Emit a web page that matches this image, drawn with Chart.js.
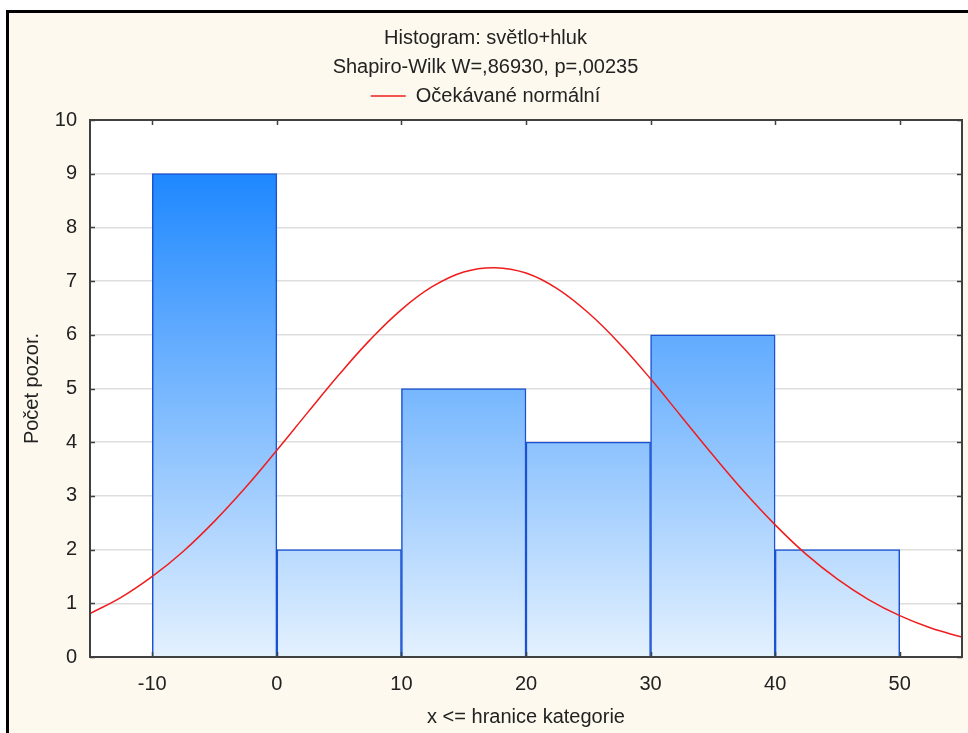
<!DOCTYPE html>
<html><head><meta charset="utf-8">
<script src="https://cdn.jsdelivr.net/npm/chart.js@4.4.1/dist/chart.umd.min.js"></script>
<style>
html,body{margin:0;padding:0;background:#fff;}
#frame{position:absolute;left:6px;top:10px;width:959px;height:720px;border-left:3px solid #000;border-top:3px solid #000;background:#fef9ee;}
canvas{display:block;}
</style></head><body>
<div id="frame"><canvas id="c" width="959" height="720" style="width:959px;height:720px"></canvas></div>
<script>
const titleText = 'Histogram: světlo+hluk';
const subtitleText = 'Shapiro-Wilk W=,86930, p=,00235';
const legendLabel = 'Očekávané normální';
const xAxisTitle = 'x <= hranice kategorie';
const yAxisTitle = 'Počet pozor.';

const binLower = [-10, 0, 10, 20, 30, 40];
const binUpper = [0, 10, 20, 30, 40, 50];
const counts = [9, 2, 5, 4, 6, 2];

const curveX = [-15, -12.5, -10, -7.5, -5, -2.5, 0, 2.5, 5, 7.5, 10, 12.5, 15, 17.5, 20, 22.5, 25, 27.5, 30, 32.5, 35, 37.5, 40, 42.5, 45, 47.5, 50, 52.5, 55];
const curveY = [0.81, 1.11, 1.50, 1.97, 2.53, 3.16, 3.85, 4.56, 5.26, 5.91, 6.47, 6.90, 7.17, 7.25, 7.15, 6.86, 6.41, 5.84, 5.18, 4.47, 3.76, 3.08, 2.46, 1.91, 1.45, 1.07, 0.77, 0.54, 0.37];

const xTicks = [-10, 0, 10, 20, 30, 40, 50];
const yTicks = [0, 1, 2, 3, 4, 5, 6, 7, 8, 9, 10];
const xMin = -15, xMax = 55, yMin = 0, yMax = 10;

const FAM = "'Liberation Sans', Arial, sans-serif";
Chart.defaults.font.family = FAM;
Chart.defaults.color = '#222';

const FONT = {family: FAM, size: 20, weight: 'normal'};
const FONT_T = {family: FAM, size: 20, weight: 'normal', lineHeight: '20px'};

const barData = binLower.map((lo, i) => ({x: (lo + binUpper[i]) / 2, y: counts[i]}));
const lineData = curveX.map((x, i) => ({x: x, y: curveY[i]}));

function barGradient(ctx) {
  const chart = ctx.chart;
  const area = chart.chartArea;
  if (!area) return '#5aa8fa';
  const ys = chart.scales.y;
  const g = chart.ctx.createLinearGradient(0, ys.getPixelForValue(yMax), 0, ys.getPixelForValue(yMin));
  g.addColorStop(0, '#087cff');
  g.addColorStop(1, '#e4f1fe');
  return g;
}

const plotBg = {
  id: 'plotBg',
  beforeDraw(chart) {
    const a = chart.chartArea, c = chart.ctx;
    c.save(); c.fillStyle = '#ffffff';
    c.fillRect(a.left, a.top, a.right - a.left, a.bottom - a.top);
    c.restore();
  }
};

const frameTicks = {
  id: 'frameTicks',
  afterDatasetsDraw(chart) {
    const a = chart.chartArea, c = chart.ctx;
    const xs = chart.scales.x, ys = chart.scales.y;
    c.save();
    c.strokeStyle = '#404040';
    c.lineWidth = 2;
    c.strokeRect(a.left, a.top, a.right - a.left, a.bottom - a.top);
    c.beginPath();
    const L = 5;
    xTicks.forEach(v => {
      const px = Math.round(xs.getPixelForValue(v)) + 0.5;
      c.moveTo(px, a.bottom); c.lineTo(px, a.bottom - L);
      c.moveTo(px, a.top); c.lineTo(px, a.top + L);
    });
    yTicks.forEach(v => {
      const py = Math.round(ys.getPixelForValue(v)) + 0.5;
      c.moveTo(a.left, py); c.lineTo(a.left + L, py);
      c.moveTo(a.right, py); c.lineTo(a.right - L, py);
    });
    c.lineWidth = 1.5;
    c.stroke();
    c.restore();
  }
};

new Chart(document.getElementById('c'), {
  data: {
    datasets: [
      {
        type: 'bar', label: 'Počet', data: barData, order: 2,
        backgroundColor: barGradient, borderColor: '#1a52d2', borderWidth: 1.5,
        barPercentage: 1, categoryPercentage: 1, borderSkipped: 'start'
      },
      {
        type: 'line', label: legendLabel, data: lineData, order: 1,
        borderColor: '#f01c1c', backgroundColor: '#f01c1c', borderWidth: 1.5,
        pointRadius: 0, tension: 0.4, fill: false
      }
    ]
  },
  options: {
    responsive: false, animation: false, devicePixelRatio: 1,
    layout: {padding: {top: 0, left: 0, right: 6, bottom: 0}},
    plugins: {
      title: {display: true, text: titleText, color: '#222', font: FONT_T, padding: {top: 15, bottom: 0}},
      subtitle: {display: true, text: subtitleText, color: '#222', font: FONT_T, padding: {top: 9, bottom: 0}},
      legend: {
        display: true,
        labels: {
          filter: item => item.datasetIndex === 1,
          usePointStyle: true, pointStyle: 'line', pointStyleWidth: 35,
          padding: 9, font: FONT, color: '#222'
        }
      },
      tooltip: {enabled: false}
    },
    scales: {
      x: {
        type: 'linear', position: 'bottom', min: xMin, max: xMax, offset: false,
        afterBuildTicks: s => { s.ticks = xTicks.map(v => ({value: v})); },
        grid: {display: false, drawTicks: false, offset: false},
        border: {display: false},
        ticks: {padding: 15, font: FONT, color: '#222'},
        title: {display: true, text: xAxisTitle, font: FONT, color: '#222', padding: {top: 0, bottom: 4}},
        afterFit: s => { s.height = 76; }
      },
      xTop: {
        type: 'linear', position: 'top', display: true, offset: false,
        ticks: {display: false}, grid: {display: false, drawTicks: false}, border: {display: false},
        afterFit: s => { s.height = 4; }
      },
      y: {
        type: 'linear', position: 'left', min: yMin, max: yMax,
        afterBuildTicks: s => { s.ticks = yTicks.map(v => ({value: v})); },
        grid: {color: '#dedede', lineWidth: 1.5, drawTicks: false},
        border: {display: false},
        ticks: {padding: 13, font: FONT, color: '#222'},
        title: {display: true, text: yAxisTitle, font: FONT, color: '#222', padding: {top: 11, bottom: 0}},
        afterFit: s => { s.width = 81; }
      }
    }
  },
  plugins: [plotBg, frameTicks]
});
</script>
</body></html>
